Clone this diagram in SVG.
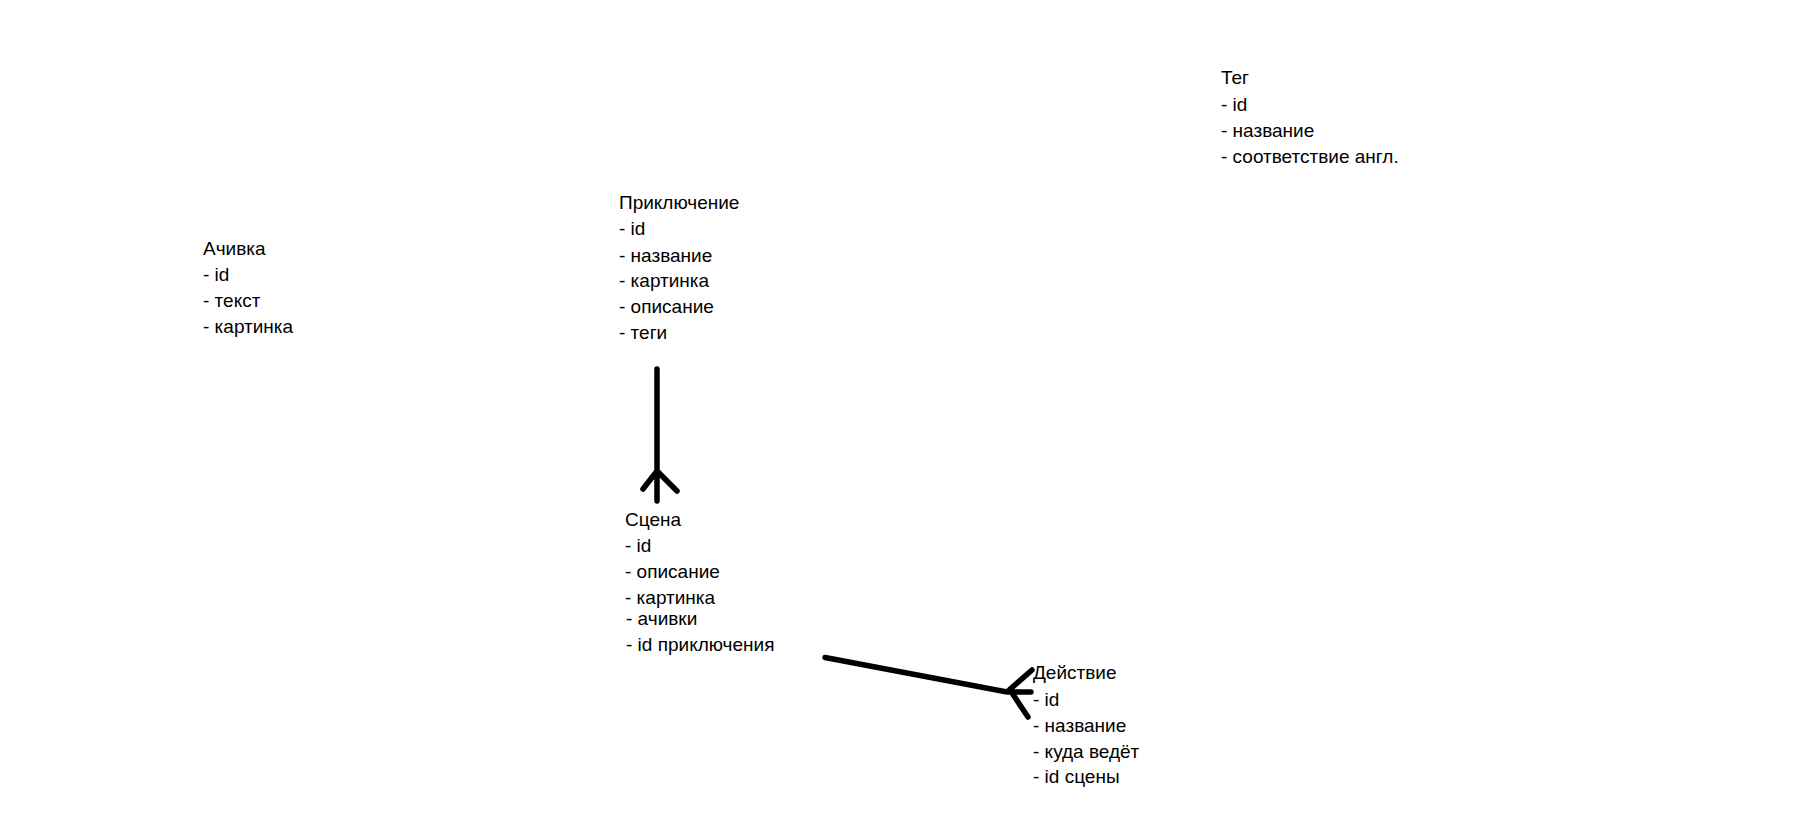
<svg xmlns="http://www.w3.org/2000/svg" width="1795" height="839" viewBox="0 0 1795 839">
<style>
text{font-family:"Liberation Sans","Noto Sans",sans-serif;font-size:19px;fill:#000}
.c{stroke:#000;stroke-width:5.5;stroke-linecap:round;fill:none}
</style>
<rect width="1795" height="839" fill="#fff"/>
<g id="achivka">
<text x="203" y="255">Ачивка</text>
<text x="203" y="281">- id</text>
<text x="203" y="307">- текст</text>
<text x="203" y="333">- картинка</text>
</g>
<g id="priklyuchenie">
<text x="619" y="209">Приключение</text>
<text x="619" y="235">- id</text>
<text x="619" y="262">- название</text>
<text x="619" y="287">- картинка</text>
<text x="619" y="313">- описание</text>
<text x="619" y="339">- теги</text>
</g>
<g id="teg">
<text x="1221" y="84">Тег</text>
<text x="1221" y="111">- id</text>
<text x="1221" y="137">- название</text>
<text x="1221" y="163">- соответствие англ.</text>
</g>
<g id="scena">
<text x="625" y="526">Сцена</text>
<text x="625" y="552">- id</text>
<text x="625" y="578">- описание</text>
<text x="625" y="604">- картинка</text>
<text x="626" y="625">- ачивки</text>
<text x="626" y="651">- id приключения</text>
</g>
<g id="deystvie">
<text x="1033" y="679">Действие</text>
<text x="1033" y="706">- id</text>
<text x="1033" y="732">- название</text>
<text x="1033" y="758">- куда ведёт</text>
<text x="1033" y="783">- id сцены</text>
</g>
<g id="connectors">
<path class="c" d="M657 369 V501 M643 489 L657 471 L677 491"/>
<path class="c" d="M825 657.5 L1007 692 H1031 M1032 670 L1008 691 M1012 693 L1028 717"/>
</g>
</svg>
